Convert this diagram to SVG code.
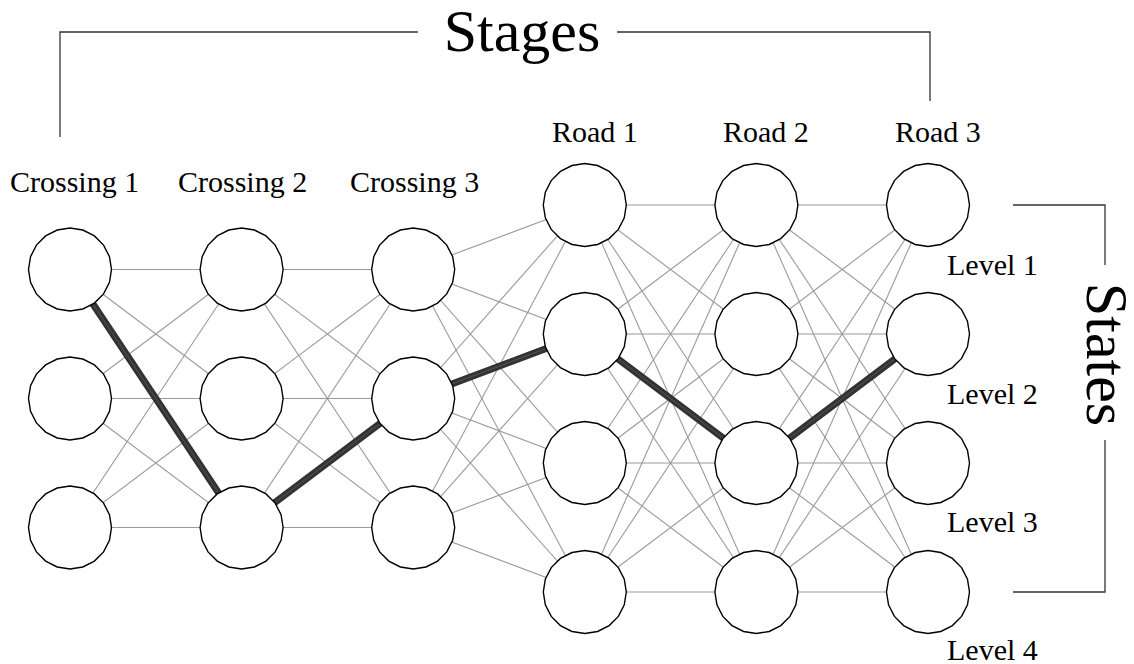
<svg xmlns="http://www.w3.org/2000/svg" xmlns:xlink="http://www.w3.org/1999/xlink" width="1134" height="664" viewBox="0 0 1134 664">
  <style>
    .lbl { font-family: "Liberation Serif", "Times New Roman", serif; fill: #000; }
    .small { font-size: 30px; }
    .big { font-size: 60px; }
    .edge { stroke: #9a9a9a; stroke-width: 1.1; fill: none; }
    .path { stroke: #333; stroke-width: 7; fill: none; stroke-linejoin: round; }
    .path-core { stroke: #555; stroke-width: 1; fill: none; }
    .node { fill: #fff; stroke: #000; stroke-width: 1.4; }
    .bracket { fill: none; stroke: #333; stroke-width: 1.3; }
  </style>
  <defs>
    <!-- 20-sided node outline, centred on the origin -->
    <polygon id="node" class="node" points="41.5,0 39.47,12.82 33.57,24.39 24.39,33.57 12.82,39.47 0,41.5 -12.82,39.47 -24.39,33.57 -33.57,24.39 -39.47,12.82 -41.5,0 -39.47,-12.82 -33.57,-24.39 -24.39,-33.57 -12.82,-39.47 0,-41.5 12.82,-39.47 24.39,-33.57 33.57,-24.39 39.47,-12.82"/>
  </defs>

  <rect width="1134" height="664" fill="#fff"/>

  <!-- Brackets -->
  <g id="stages-bracket">
    <polyline class="bracket" points="60,137 60,32 418,32"/>
    <polyline class="bracket" points="617,32 930,32 930,101"/>
    <text class="lbl big" x="522" y="51" text-anchor="middle">Stages</text>
  </g>
  <g id="states-bracket">
    <polyline class="bracket" points="1013,205 1105,205 1105,265"/>
    <polyline class="bracket" points="1105,440 1105,592 1013,592"/>
    <text class="lbl big" text-anchor="middle" transform="translate(1087,354.5) rotate(90)">States</text>
  </g>

  <!-- Connectors -->
  <g id="connectors">
    <!-- Crossing 1 to Crossing 2 -->
    <line class="edge" x1="70" y1="269.5" x2="241.6" y2="269.5"/>
    <line class="edge" x1="70" y1="269.5" x2="241.6" y2="398.5"/>
    <line class="edge" x1="70" y1="269.5" x2="241.6" y2="527.5"/>
    <line class="edge" x1="70" y1="398.5" x2="241.6" y2="269.5"/>
    <line class="edge" x1="70" y1="398.5" x2="241.6" y2="398.5"/>
    <line class="edge" x1="70" y1="398.5" x2="241.6" y2="527.5"/>
    <line class="edge" x1="70" y1="527.5" x2="241.6" y2="269.5"/>
    <line class="edge" x1="70" y1="527.5" x2="241.6" y2="398.5"/>
    <line class="edge" x1="70" y1="527.5" x2="241.6" y2="527.5"/>

    <!-- Crossing 2 to Crossing 3 -->
    <line class="edge" x1="241.6" y1="269.5" x2="413.2" y2="269.5"/>
    <line class="edge" x1="241.6" y1="269.5" x2="413.2" y2="398.5"/>
    <line class="edge" x1="241.6" y1="269.5" x2="413.2" y2="527.5"/>
    <line class="edge" x1="241.6" y1="398.5" x2="413.2" y2="269.5"/>
    <line class="edge" x1="241.6" y1="398.5" x2="413.2" y2="398.5"/>
    <line class="edge" x1="241.6" y1="398.5" x2="413.2" y2="527.5"/>
    <line class="edge" x1="241.6" y1="527.5" x2="413.2" y2="269.5"/>
    <line class="edge" x1="241.6" y1="527.5" x2="413.2" y2="398.5"/>
    <line class="edge" x1="241.6" y1="527.5" x2="413.2" y2="527.5"/>

    <!-- Crossing 3 to Road 1 -->
    <line class="edge" x1="413.2" y1="269.5" x2="584.8" y2="205"/>
    <line class="edge" x1="413.2" y1="269.5" x2="584.8" y2="334"/>
    <line class="edge" x1="413.2" y1="269.5" x2="584.8" y2="463"/>
    <line class="edge" x1="413.2" y1="269.5" x2="584.8" y2="592"/>
    <line class="edge" x1="413.2" y1="398.5" x2="584.8" y2="205"/>
    <line class="edge" x1="413.2" y1="398.5" x2="584.8" y2="334"/>
    <line class="edge" x1="413.2" y1="398.5" x2="584.8" y2="463"/>
    <line class="edge" x1="413.2" y1="398.5" x2="584.8" y2="592"/>
    <line class="edge" x1="413.2" y1="527.5" x2="584.8" y2="205"/>
    <line class="edge" x1="413.2" y1="527.5" x2="584.8" y2="334"/>
    <line class="edge" x1="413.2" y1="527.5" x2="584.8" y2="463"/>
    <line class="edge" x1="413.2" y1="527.5" x2="584.8" y2="592"/>

    <!-- Road 1 to Road 2 -->
    <line class="edge" x1="584.8" y1="205" x2="756.4" y2="205"/>
    <line class="edge" x1="584.8" y1="205" x2="756.4" y2="334"/>
    <line class="edge" x1="584.8" y1="205" x2="756.4" y2="463"/>
    <line class="edge" x1="584.8" y1="205" x2="756.4" y2="592"/>
    <line class="edge" x1="584.8" y1="334" x2="756.4" y2="205"/>
    <line class="edge" x1="584.8" y1="334" x2="756.4" y2="334"/>
    <line class="edge" x1="584.8" y1="334" x2="756.4" y2="463"/>
    <line class="edge" x1="584.8" y1="334" x2="756.4" y2="592"/>
    <line class="edge" x1="584.8" y1="463" x2="756.4" y2="205"/>
    <line class="edge" x1="584.8" y1="463" x2="756.4" y2="334"/>
    <line class="edge" x1="584.8" y1="463" x2="756.4" y2="463"/>
    <line class="edge" x1="584.8" y1="463" x2="756.4" y2="592"/>
    <line class="edge" x1="584.8" y1="592" x2="756.4" y2="205"/>
    <line class="edge" x1="584.8" y1="592" x2="756.4" y2="334"/>
    <line class="edge" x1="584.8" y1="592" x2="756.4" y2="463"/>
    <line class="edge" x1="584.8" y1="592" x2="756.4" y2="592"/>

    <!-- Road 2 to Road 3 -->
    <line class="edge" x1="756.4" y1="205" x2="928" y2="205"/>
    <line class="edge" x1="756.4" y1="205" x2="928" y2="334"/>
    <line class="edge" x1="756.4" y1="205" x2="928" y2="463"/>
    <line class="edge" x1="756.4" y1="205" x2="928" y2="592"/>
    <line class="edge" x1="756.4" y1="334" x2="928" y2="205"/>
    <line class="edge" x1="756.4" y1="334" x2="928" y2="334"/>
    <line class="edge" x1="756.4" y1="334" x2="928" y2="463"/>
    <line class="edge" x1="756.4" y1="334" x2="928" y2="592"/>
    <line class="edge" x1="756.4" y1="463" x2="928" y2="205"/>
    <line class="edge" x1="756.4" y1="463" x2="928" y2="334"/>
    <line class="edge" x1="756.4" y1="463" x2="928" y2="463"/>
    <line class="edge" x1="756.4" y1="463" x2="928" y2="592"/>
    <line class="edge" x1="756.4" y1="592" x2="928" y2="205"/>
    <line class="edge" x1="756.4" y1="592" x2="928" y2="334"/>
    <line class="edge" x1="756.4" y1="592" x2="928" y2="463"/>
    <line class="edge" x1="756.4" y1="592" x2="928" y2="592"/>

    <!-- chosen route, drawn over the mesh -->
    <polyline class="path" points="70,269.5 241.6,527.5 413.2,398.5 584.8,334 756.4,463 928,334"/>
    <polyline class="path-core" points="70,269.5 241.6,527.5 413.2,398.5 584.8,334 756.4,463 928,334"/>
  </g>

  <!-- Crossing stages -->
  <g id="crossing-1">
    <text class="lbl small" x="10" y="192">Crossing 1</text>
    <use id="c1-l1" xlink:href="#node" href="#node" x="70" y="269.5"/>
    <use id="c1-l2" xlink:href="#node" href="#node" x="70" y="398.5"/>
    <use id="c1-l3" xlink:href="#node" href="#node" x="70" y="527.5"/>
  </g>
  <g id="crossing-2">
    <text class="lbl small" x="178" y="192">Crossing 2</text>
    <use id="c2-l1" xlink:href="#node" href="#node" x="241.6" y="269.5"/>
    <use id="c2-l2" xlink:href="#node" href="#node" x="241.6" y="398.5"/>
    <use id="c2-l3" xlink:href="#node" href="#node" x="241.6" y="527.5"/>
  </g>
  <g id="crossing-3">
    <text class="lbl small" x="350" y="192">Crossing 3</text>
    <use id="c3-l1" xlink:href="#node" href="#node" x="413.2" y="269.5"/>
    <use id="c3-l2" xlink:href="#node" href="#node" x="413.2" y="398.5"/>
    <use id="c3-l3" xlink:href="#node" href="#node" x="413.2" y="527.5"/>
  </g>

  <!-- Road stages -->
  <g id="road-1">
    <text class="lbl small" x="552" y="142">Road 1</text>
    <use id="r1-l1" xlink:href="#node" href="#node" x="584.8" y="205"/>
    <use id="r1-l2" xlink:href="#node" href="#node" x="584.8" y="334"/>
    <use id="r1-l3" xlink:href="#node" href="#node" x="584.8" y="463"/>
    <use id="r1-l4" xlink:href="#node" href="#node" x="584.8" y="592"/>
  </g>
  <g id="road-2">
    <text class="lbl small" x="723" y="142">Road 2</text>
    <use id="r2-l1" xlink:href="#node" href="#node" x="756.4" y="205"/>
    <use id="r2-l2" xlink:href="#node" href="#node" x="756.4" y="334"/>
    <use id="r2-l3" xlink:href="#node" href="#node" x="756.4" y="463"/>
    <use id="r2-l4" xlink:href="#node" href="#node" x="756.4" y="592"/>
  </g>
  <g id="road-3">
    <text class="lbl small" x="895" y="142">Road 3</text>
    <use id="r3-l1" xlink:href="#node" href="#node" x="928" y="205"/>
    <use id="r3-l2" xlink:href="#node" href="#node" x="928" y="334"/>
    <use id="r3-l3" xlink:href="#node" href="#node" x="928" y="463"/>
    <use id="r3-l4" xlink:href="#node" href="#node" x="928" y="592"/>
  </g>

  <!-- Level labels -->
  <g id="levels">
    <text class="lbl small" x="947" y="275">Level 1</text>
    <text class="lbl small" x="947" y="404">Level 2</text>
    <text class="lbl small" x="947" y="532">Level 3</text>
    <text class="lbl small" x="947" y="660">Level 4</text>
  </g>
</svg>
